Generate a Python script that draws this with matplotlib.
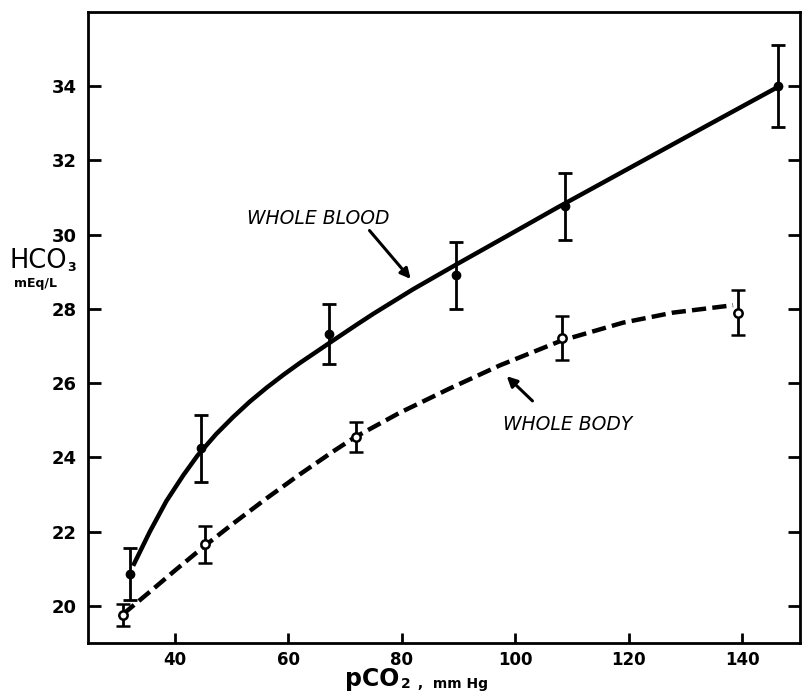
import numpy as np
import matplotlib
matplotlib.use('Agg')
from matplotlib import pyplot as plt

# measured points (mean and error bar half width)
blood_x = [32.1, 44.6, 67.1, 89.5, 108.7, 146.3]
blood_y = [20.86, 24.25, 27.32, 28.91, 30.77, 34.0]
blood_err = [0.7, 0.9, 0.8, 0.9, 0.9, 1.1]

body_x = [30.9, 45.3, 71.9, 108.3, 139.3]
body_y = [19.76, 21.66, 24.55, 27.22, 27.9]
body_err = [0.3, 0.5, 0.4, 0.6, 0.6]

# hand drawn curves
blood_cx = [32.65, 35.6, 38.5, 41.5, 44.0, 47.3, 50.3, 53.2, 56.2, 59.1, 62.0, 65.0,
            67.9, 72.0, 75.0, 82.0, 90.0, 98.5, 107.3, 119.0, 133.7, 146.3]
blood_cy = [21.08, 22.0, 22.82, 23.52, 24.05, 24.63, 25.09, 25.5, 25.88, 26.22, 26.54,
            26.85, 27.15, 27.57, 27.87, 28.53, 29.23, 29.96, 30.72, 31.7, 32.93, 33.98]

body_cx = [30.9, 35.6, 40.0, 45.3, 50.3, 56.2, 62.0, 67.9, 71.7, 79.6, 88.5, 97.3,
           108.2, 119.0, 127.8, 138.4]
body_cy = [19.78, 20.38, 20.95, 21.62, 22.22, 22.9, 23.54, 24.16, 24.54, 25.2, 25.86,
           26.48, 27.15, 27.63, 27.9, 28.1]

xticks = [40, 60, 80, 100, 120, 140]
xtick_labels = ['40', '60', '80', '100', '120', '140']
yticks = [20, 22, 24, 26, 28, 30, 32, 34]

fig = plt.figure(figsize=(8.03, 6.93), dpi=100)
ax = fig.add_axes([88/803, 1 - 643/693, 712/803, 631/693])

ax.plot(blood_cx, blood_cy, c='black', lw=3.2, solid_capstyle='butt', solid_joinstyle='round')
ax.plot(body_cx, body_cy, c='black', lw=3.2, ls=(0, (3.2, 1.4)))

ax.errorbar(blood_x, blood_y, yerr=blood_err, fmt='o', color='black', ms=6,
            elinewidth=2, capsize=5, capthick=2)
ax.errorbar(body_x, body_y, yerr=body_err, fmt='o', color='black', mfc='white',
            mew=1.8, ms=6, elinewidth=2, capsize=5, capthick=2)

ax.text(52.7, 30.44, 'WHOLE BLOOD', fontsize=13.5, style='italic', va='center', ha='left')
ax.annotate('', xy=(81.9, 28.75), xytext=(74.0, 30.17),
            arrowprops=dict(arrowstyle='-|>', lw=2.2, color='black', mutation_scale=15))
ax.text(97.8, 24.9, 'WHOLE BODY', fontsize=13.5, style='italic', va='center', ha='left')
ax.annotate('', xy=(98.15, 26.24), xytext=(103.4, 25.47),
            arrowprops=dict(arrowstyle='-|>', lw=2.2, color='black', mutation_scale=15))

ax.set_xlim(24.7, 150.2)
ax.set_ylim(19.0, 36.0)
ax.set_xticks(xticks)
ax.set_xticklabels(xtick_labels, fontsize=12, fontweight='bold')
ax.set_yticks(yticks)
ax.set_yticklabels([str(v) for v in yticks], fontsize=13, fontweight='bold')
ax.tick_params(axis='y', direction='in', length=9, width=2, right=True, pad=8)
ax.tick_params(axis='x', direction='in', length=7, width=2, pad=6)
for s in ax.spines.values():
    s.set_linewidth(2)

# axis labels
h = fig.text(10/803, 1 - 268/693, 'HCO', fontsize=18.5, ha='left', va='baseline')
ax.annotate('3', xy=(1, 0), xycoords=h, xytext=(0, 0), textcoords='offset points',
            fontsize=9, fontweight='bold', va='bottom', ha='left')
fig.text(14/803, 1 - 287/693, 'mEq/L', fontsize=9, fontweight='bold', ha='left', va='baseline')

t1 = fig.text(345/803, 1 - 686/693, 'pCO', fontsize=17, fontweight='bold', ha='left', va='baseline')
t2 = ax.annotate('2', xy=(1, 0), xycoords=t1, xytext=(1, 0), textcoords='offset points',
                 fontsize=10, fontweight='bold', va='bottom', ha='left')
ax.annotate(' ,  mm Hg', xy=(1, 0), xycoords=t2, xytext=(2, 0), textcoords='offset points',
            fontsize=10, fontweight='bold', va='bottom', ha='left')

plt.savefig('out.png', dpi=100)
